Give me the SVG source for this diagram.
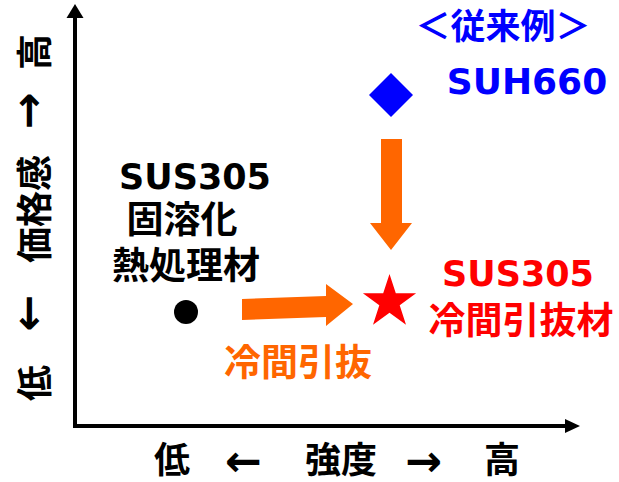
<svg xmlns="http://www.w3.org/2000/svg" width="619" height="482" viewBox="0 0 619 482">
<style>
.jp{font-family:"Noto Sans CJK JP","Noto Sans CJK SC",sans-serif;font-weight:bold;}
.lat{font-family:"DejaVu Sans","Noto Sans",sans-serif;font-weight:bold;}
.arr{font-family:"DejaVu Sans",sans-serif;font-weight:bold;font-size:44px;}
.k{fill:#000}
.b{fill:#0000FF}
.r{fill:#FF0000}
.o{fill:#FF6600}
</style>
<g id="connectors">
  <g id="axes">
    <path d="M75,17 V426 H566" fill="none" stroke="#000" stroke-width="4"/>
    <polygon points="75,4 83.5,18 66.5,18" class="k"/>
    <polygon points="580,426 565,419 565,433" class="k"/>
  </g>
  <polygon id="arrow-down" class="o" points="381,139 402,139 402,223 412,223 391,250 370,223 381,223"/>
  <polygon id="arrow-right" class="o" points="242,299 326,296 326,284 353,304 326,326 326,317 242,320"/>
</g>
<g id="y-label" transform="translate(35,217) rotate(-90)">
  <text class="jp k" x="-166" y="13" font-size="36" text-anchor="middle">低</text>
  <text class="arr k" x="-96" y="8" text-anchor="middle">←</text>
  <text class="jp k" x="8" y="13" font-size="36" text-anchor="middle">価格感</text>
  <text class="arr k" x="106" y="8" text-anchor="middle">→</text>
  <text class="jp k" x="165" y="13" font-size="36" text-anchor="middle">高</text>
</g>
<g id="x-label">
  <text class="jp k" x="172" y="473" font-size="36" text-anchor="middle">低</text>
  <text class="arr k" x="243.5" y="476" text-anchor="middle">←</text>
  <text class="jp k" x="341" y="473" font-size="36" text-anchor="middle">強度</text>
  <text class="arr k" x="423.5" y="476" text-anchor="middle">→</text>
  <text class="jp k" x="502" y="473" font-size="36" text-anchor="middle">高</text>
</g>
<g id="node-sus305-solution">
  <circle cx="186" cy="312" r="12" class="k"/>
  <text class="lat k" x="195" y="189" font-size="35" text-anchor="middle">SUS305</text>
  <text class="jp k" x="182" y="233" font-size="37" text-anchor="middle">固溶化</text>
  <text class="jp k" x="186" y="279" font-size="37" text-anchor="middle">熱処理材</text>
</g>
<g id="node-suh660">
  <polygon points="391,73 413,95 391,117 369,95" class="b"/>
  <text class="jp b" x="503" y="39" font-size="35" text-anchor="middle">＜従来例＞</text>
  <text class="lat b" x="527" y="94" font-size="36" text-anchor="middle">SUH660</text>
</g>
<g id="node-sus305-cold">
  <polygon class="r" points="389.5,274 395.8,293.3 416.1,293.3 399.7,305.3 406,324.7 389.5,312.7 373,324.7 379.3,305.3 362.9,293.3 383.2,293.3"/>
  <text class="lat r" x="518" y="286" font-size="35" text-anchor="middle">SUS305</text>
  <text class="jp r" x="521" y="334" font-size="37" text-anchor="middle">冷間引抜材</text>
</g>
<g id="label-cold-drawing">
  <text class="jp o" x="298" y="376" font-size="37" text-anchor="middle">冷間引抜</text>
</g>
</svg>
